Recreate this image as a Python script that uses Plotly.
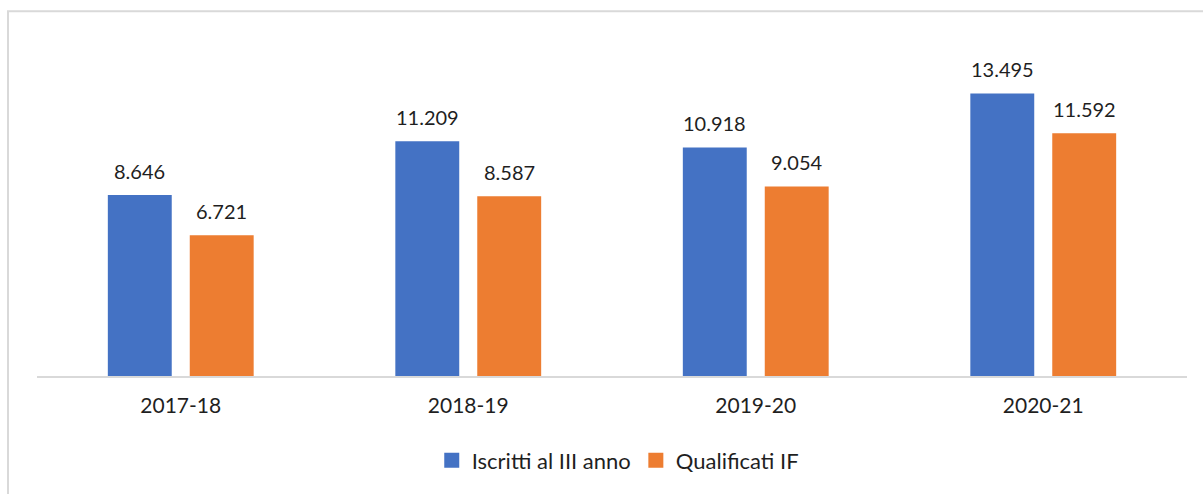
import plotly.graph_objects as go

categories = ["2017-18", "2018-19", "2019-20", "2020-21"]
iscritti = [8646, 11209, 10918, 13495]
qualificati = [6721, 8587, 9054, 11592]
series_names = ["Iscritti al III anno", "Qualificati IF"]
colors = ["#4472C4", "#ED7D31"]

W, H = 1203, 494
L, R, T, B = 37, 16, 41, 116
plot_w = W - L - R
plot_h = H - T - B
FS = 20
TXT = "#1f1f1f"


def fmt(v):
    return f"{v:,}".replace(",", ".")


fig = go.Figure()
for name, vals, col in zip(series_names, [iscritti, qualificati], colors):
    fig.add_trace(go.Bar(
        x=categories, y=vals, name=name, showlegend=False,
        marker=dict(color=col, line=dict(width=0)),
        hoverinfo="skip",
    ))
    # legend entry with a larger square swatch
    fig.add_trace(go.Scatter(
        x=[None], y=[None], mode="markers", name=name,
        marker=dict(symbol="square", size=15, color=col),
    ))

# value labels above bars
offsets = [-0.1426, 0.1426]
annotations = []
for vals, off in zip([iscritti, qualificati], offsets):
    for i, v in enumerate(vals):
        annotations.append(dict(
            x=i + off, y=v, xref="x", yref="y", text=fmt(v),
            showarrow=False, yanchor="bottom", yshift=10,
            font=dict(size=FS, color=TXT),
        ))


def px_to_paper_x(p):
    return (p - L) / plot_w


def px_to_paper_y(p):
    return (H - B - p) / plot_h


fig.update_layout(
    width=W, height=H,
    margin=dict(l=L, r=R, t=T, b=B),
    paper_bgcolor="white", plot_bgcolor="white",
    font=dict(family="Lato, Open Sans, sans-serif", size=FS, color=TXT),
    barmode="group", bargap=0.43, bargroupgap=0.22,
    showlegend=True,
    legend=dict(orientation="h", x=0.505, xanchor="center", y=px_to_paper_y(463),
                yanchor="middle", font=dict(size=22, color=TXT),
                itemwidth=30, traceorder="normal", tracegroupgap=0),
    annotations=annotations,
    shapes=[dict(type="rect", xref="paper", yref="paper",
                 x0=px_to_paper_x(8), x1=px_to_paper_x(1230),
                 y0=px_to_paper_y(520), y1=px_to_paper_y(11),
                 line=dict(color="#D9D9D9", width=2), layer="below")],
    xaxis=dict(type="category", showgrid=False, showline=True, linecolor="#D9D9D9",
               linewidth=1.5, ticks="", tickfont=dict(size=21, color=TXT),
               ticklabelstandoff=10, fixedrange=True),
    yaxis=dict(range=[0, 16000], visible=False, showgrid=False, fixedrange=True),
)

fig.write_html("out.html", config={"displayModeBar": False})
